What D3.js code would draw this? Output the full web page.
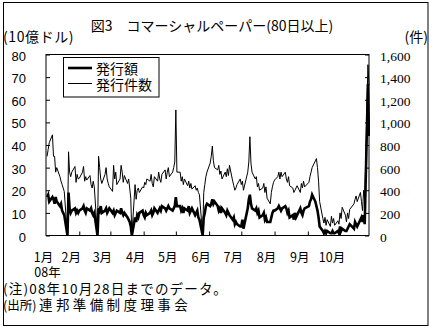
<!DOCTYPE html>
<html><head><meta charset="utf-8">
<script src="https://cdn.jsdelivr.net/npm/d3@7"></script>
<style>
html,body{margin:0;padding:0;background:#fff;}
svg text{fill:#000;}
</style></head>
<body><svg id="c" width="436" height="333"></svg>
<script>
// ---- data ----
const title = "図3　コマーシャルペーパー(80日以上)";
const leftUnit = "(10億ドル)";
const rightUnit = "(件)";
const seriesNames = ["発行額", "発行件数"];
const monthLabels = ["1月","2月","3月","4月","5月","6月","7月","8月","9月","10月"];
const yearLabel = "08年";
const note1 = "(注)08年10月28日までのデータ。";
const note2a = "(出所)", note2b = "連邦準備制度理事会";
const leftTicks = [0,10,20,30,40,50,60,70,80];
const rightTicks = [0,200,400,600,800,1000,1200,1400,1600];
const excludedDays = ["2008-01-01","2008-07-04","2008-09-01","2008-10-13"];

// 発行額 (10億ドル), business days per month
const amtJan = [17,18,15,17,16,14,17,15,13,14,11,10,9,0,19,12,10,11,12,10,11,10];
const amtFeb = [11,12,13,11,10,12,11,12,10,9,10,0,12,11,13,10,11,12,10,11,12];
const amtMar = [10,11,9,10,11,10,12,10,9,10,8,7,6,4,0,8,6,9,8,10,11];
const amtApr = [9,8,10,9,10,11,9,10,12,10,11,12,11,13,12,11,12,13,12,11,12,13];
const amtMay = [17,13,13,11,12,10,12,11,13,10,11,12,9,10,11,8,7,0,8,10,13,14];
const amtJun = [13,14,16,14,15,13,11,12,10,12,10,9,11,10,9,7,8,5,6,5,4];
const amtJul = [4,7,3,12,16,18,14,12,11,12,10,11,8,9,10,7,8,6,6,8,10,11];
const amtAug = [11,12,13,12,11,12,13,12,10,11,8,9,7,10,8,9,12,10,9,11,12];
const amtSep = [13,15,16,18,15,13,11,8,4,2,1,2,1,2,1,1,2,1,1,2,1];
const amtOct = [4,2,3,2,2,3,4,5,3,6,5,4,7,8,6,9,5,67,44];

// 発行件数 (件)
const cntJan = [700,760,820,890,700,700,560,600,520,480,450,420,390,0,740,560,520,560,610,470,540,500];
const cntFeb = [505,560,610,480,520,490,530,450,420,480,430,0,700,600,500,460,540,600,500,460,430];
const cntMar = [390,620,500,560,450,500,620,560,470,530,460,500,420,330,0,450,320,400,420,380,430];
const cntApr = [420,470,450,500,480,540,460,430,520,480,560,500,470,540,580,500,560,600,520,560,600,650];
const cntMay = [1110,560,560,480,520,450,500,440,480,420,460,410,440,400,420,380,360,0,380,450,520,560];
const cntJun = [640,700,790,660,600,580,620,540,570,500,560,520,590,530,620,480,440,400,420,450,500];
const cntJul = [450,480,400,560,650,873,640,560,500,520,430,460,400,420,460,380,430,330,280,380,430,470];
const cntAug = [490,520,560,500,560,520,560,500,470,520,440,420,380,400,420,440,380,460,420,480,430];
const cntSep = [470,520,560,600,660,680,600,480,300,150,110,160,90,140,80,170,110,150,90,130,100];
const cntOct = [200,150,250,180,120,200,150,230,280,320,350,300,380,300,220,400,300,1510,1330];

const amounts = [].concat(amtJan,amtFeb,amtMar,amtApr,amtMay,amtJun,amtJul,amtAug,amtSep,amtOct);
const counts = [].concat(cntJan,cntFeb,cntMar,cntApr,cntMay,cntJun,cntJul,cntAug,cntSep,cntOct);

// business-day calendar
const fmt = d3.timeFormat("%Y-%m-%d");
const start = new Date(2008,0,1), end = new Date(2008,9,28);
const days = d3.timeDay.range(start, d3.timeDay.offset(end,1))
  .filter(d => d.getDay()!==0 && d.getDay()!==6 && !excludedDays.includes(fmt(d)));
const data = days.map((d,i)=>({date:d, amt:amounts[i], cnt:counts[i]}));

// ---- drawing ----
const svg = d3.select("#c");
const L=46, R=369, T=54.5, B=235.5;
const x = d3.scaleTime().domain([start,end]).range([L,R]);
const yL = d3.scaleLinear().domain([0,80]).range([B,T]);
const yR = d3.scaleLinear().domain([0,1600]).range([B,T]);
const jp = "'Noto Sans CJK JP','Noto Sans',sans-serif";

svg.append("rect").attr("x",3.5).attr("y",2.5).attr("width",424.5).attr("height",323)
  .attr("fill","#fff").attr("stroke","#000").attr("stroke-width",1);

svg.append("text").attr("x",212).attr("y",25).attr("text-anchor","middle")
  .attr("dominant-baseline","central").style("font-family",jp).style("font-size","14px")
  .text(title);
svg.append("text").attr("x",3).attr("y",36).attr("dominant-baseline","central")
  .style("font-family",jp).style("font-size","14px").style("letter-spacing","0.6px").text(leftUnit);
svg.append("text").attr("x",428).attr("y",36).attr("text-anchor","end").attr("dominant-baseline","central")
  .style("font-family",jp).style("font-size","14px").text(rightUnit);

// plot frame
svg.append("rect").attr("x",L).attr("y",T).attr("width",R-L).attr("height",B-T)
  .attr("fill","none").attr("stroke","#000").attr("stroke-width",1);

// left axis
const gl = svg.append("g").attr("transform",`translate(${L},0)`)
  .call(d3.axisRight(yL).tickValues(leftTicks).tickSize(4).tickFormat(""));
gl.select(".domain").remove();
svg.append("g").selectAll("text").data(leftTicks).join("text")
  .attr("x",26).attr("y",d=>yL(d)+1.5).attr("text-anchor","end").attr("dominant-baseline","central")
  .style("font-family","'Liberation Sans',Arial,sans-serif").style("font-size","13px").text(d=>d);

// right axis
const gr = svg.append("g").attr("transform",`translate(${R},0)`)
  .call(d3.axisLeft(yR).tickValues(rightTicks).tickSize(4).tickFormat(""));
gr.select(".domain").remove();
svg.append("g").selectAll("text").data(rightTicks).join("text")
  .attr("x",380).attr("y",d=>yR(d)+1.5).attr("dominant-baseline","central")
  .style("font-family","'Liberation Serif','DejaVu Serif',serif").style("font-size","13.5px")
  .text(d=>d3.format(",")(d));

// bottom axis ticks at month starts
const monthStarts = d3.timeMonth.range(start, end).slice(1);
const gb = svg.append("g").attr("transform",`translate(0,${B})`)
  .call(d3.axisTop(x).tickValues(monthStarts).tickSize(4).tickFormat(""));
gb.select(".domain").remove();
svg.selectAll(".tick line").attr("stroke","#000");

const allMonths = d3.timeMonth.range(start, end);
svg.append("g").selectAll("text").data(allMonths).join("text")
  .attr("x",(d,i)=> i===0 ? 43.5 : x(d)-8).attr("y",256.5).attr("text-anchor","middle")
  .attr("dominant-baseline","central").style("font-family",jp).style("font-size","12.5px")
  .text((d,i)=>monthLabels[i]);
svg.append("text").attr("x",47.5).attr("y",271.5).attr("text-anchor","middle").attr("dominant-baseline","central")
  .style("font-family",jp).style("font-size","12.5px").text(yearLabel);

svg.append("text").attr("x",3).attr("y",287.5).attr("dominant-baseline","central")
  .style("font-family",jp).style("font-size","13.5px").style("letter-spacing","1.2px").text(note1);
svg.append("text").attr("x",3).attr("y",304).attr("dominant-baseline","central")
  .style("font-family",jp).style("font-size","12.5px").text(note2a);
svg.append("text").attr("x",39).attr("y",304).attr("dominant-baseline","central")
  .style("font-family",jp).style("font-size","13.5px").style("letter-spacing","3.4px").text(note2b);

// lines
const lineCnt = d3.line().x(d=>x(d.date)).y(d=>yR(d.cnt));
const lineAmt = d3.line().x(d=>x(d.date)).y(d=>yL(d.amt));
svg.append("clipPath").attr("id","pc").append("rect")
  .attr("x",L).attr("y",T).attr("width",R-L+1).attr("height",B-T);
svg.append("path").datum(data).attr("d",lineCnt).attr("fill","none")
  .attr("stroke","#000").attr("stroke-width",1).attr("clip-path","url(#pc)");
svg.append("path").datum(data).attr("d",lineAmt).attr("fill","none")
  .attr("stroke","#000").attr("stroke-width",2.6).attr("stroke-linejoin","miter").attr("clip-path","url(#pc)");

// legend
svg.append("rect").attr("x",63.5).attr("y",57.5).attr("width",95.5).attr("height",39.5)
  .attr("fill","#fff").attr("stroke","#000").attr("stroke-width",1);
svg.append("line").attr("x1",68).attr("x2",92).attr("y1",68).attr("y2",68)
  .attr("stroke","#000").attr("stroke-width",2.6);
svg.append("line").attr("x1",68).attr("x2",92).attr("y1",83.5).attr("y2",83.5)
  .attr("stroke","#000").attr("stroke-width",1);
seriesNames.forEach((n,i)=>{
  svg.append("text").attr("x",96).attr("y",68+i*15.5).attr("dominant-baseline","central")
    .style("font-family",jp).style("font-size","14px").text(n);
});
</script></body></html>
